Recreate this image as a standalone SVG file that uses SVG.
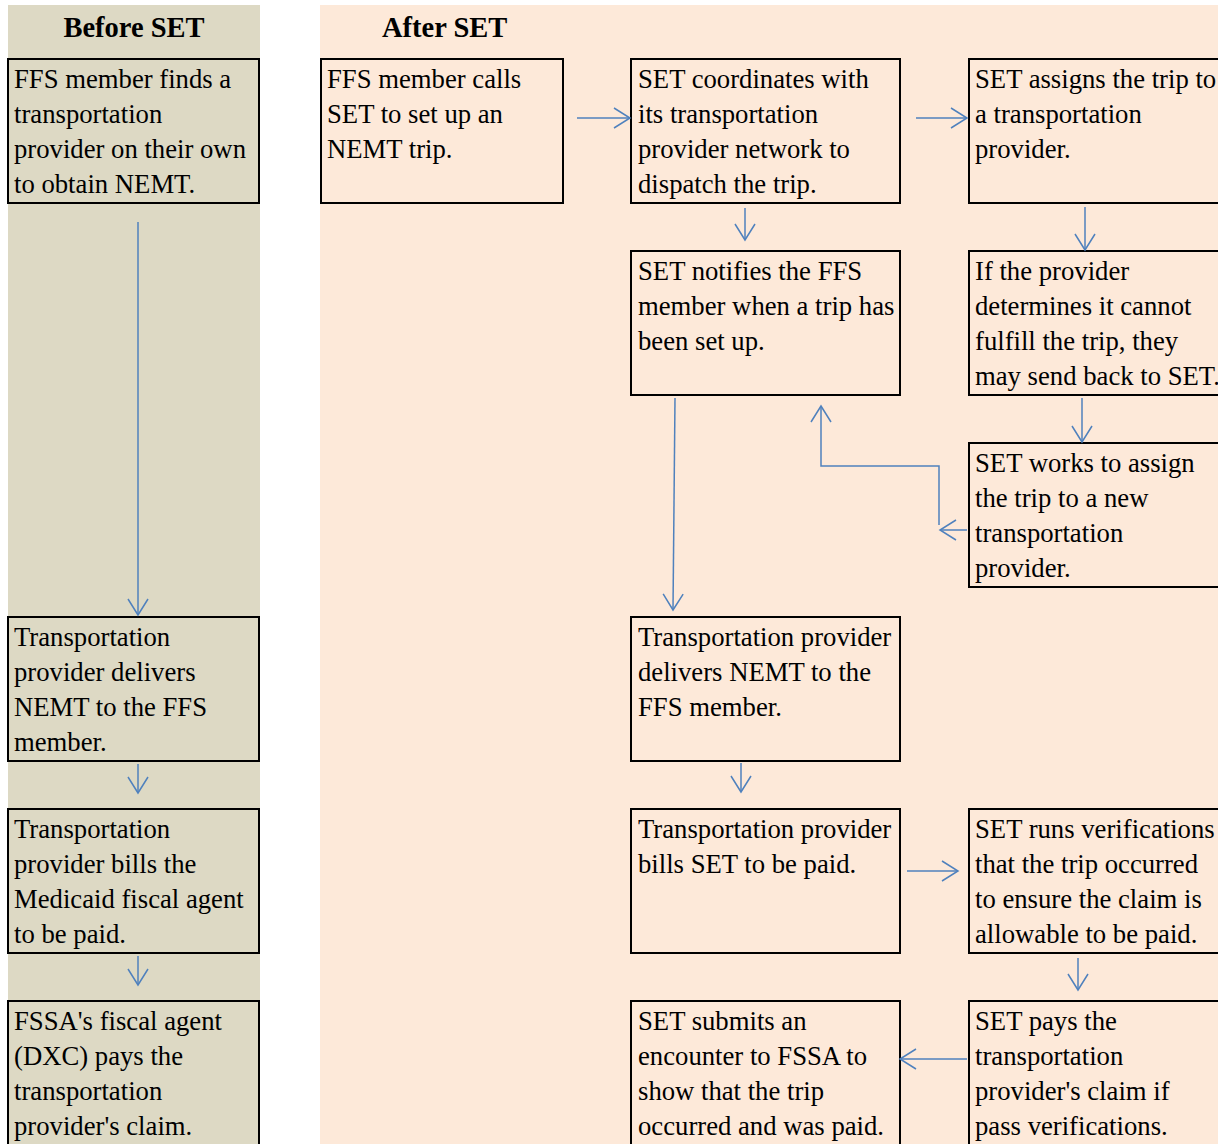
<svg xmlns="http://www.w3.org/2000/svg" width="1218" height="1144" viewBox="0 0 1218 1144">
<style>
.bg{stroke:none}
.box{stroke:#000;stroke-width:2}
.l{fill:#DDD9C4}
.r{fill:#FDE9D9}
text{font-family:"Liberation Serif","Times New Roman",serif;font-size:26.7px;fill:#000}
.h{font-weight:bold;font-size:28.5px}
.c{fill:none;stroke:#4F81BD;stroke-width:1.5}
</style>
<defs>
<marker id="a" markerUnits="userSpaceOnUse" markerWidth="24" markerHeight="24" viewBox="-18 -12 20 24" refX="0" refY="0" orient="auto">
<path d="M-16,-10 L0,0 L-16,10" fill="none" stroke="#4F81BD" stroke-width="1.5"/>
</marker>
</defs>
<rect class="bg" x="8" y="5" width="252" height="1139" fill="#DDD9C4"/>
<rect class="bg" x="320" y="5" width="898" height="1139" fill="#FDE9D9"/>
<text class="h" x="134" y="37" text-anchor="middle">Before SET</text>
<text class="h" x="382" y="37">After SET</text>

<g id="b1"><rect class="box l" x="8" y="59" width="251" height="144"/><text x="14" y="88">FFS member finds a</text><text x="14" y="123">transportation</text><text x="14" y="158">provider on their own</text><text x="14" y="193">to obtain NEMT.</text></g>
<g id="b2"><rect class="box l" x="8" y="617" width="251" height="144"/><text x="14" y="646">Transportation</text><text x="14" y="681">provider delivers</text><text x="14" y="716">NEMT to the FFS</text><text x="14" y="751">member.</text></g>
<g id="b3"><rect class="box l" x="8" y="809" width="251" height="144"/><text x="14" y="838">Transportation</text><text x="14" y="873">provider bills the</text><text x="14" y="908">Medicaid fiscal agent</text><text x="14" y="943">to be paid.</text></g>
<g id="b4"><rect class="box l" x="8" y="1001" width="251" height="150"/><text x="14" y="1030">FSSA's fiscal agent</text><text x="14" y="1065">(DXC) pays the</text><text x="14" y="1100">transportation</text><text x="14" y="1135">provider's claim.</text></g>

<g id="a1"><rect class="box r" x="321" y="59" width="242" height="144"/><text x="327" y="88">FFS member calls</text><text x="327" y="123">SET to set up an</text><text x="327" y="158">NEMT trip.</text></g>
<g id="a2"><rect class="box r" x="631" y="59" width="269" height="144"/><text x="638" y="88">SET coordinates with</text><text x="638" y="123">its transportation</text><text x="638" y="158">provider network to</text><text x="638" y="193">dispatch the trip.</text></g>
<g id="a3"><rect class="box r" x="969" y="59" width="260" height="144"/><text x="975" y="88">SET assigns the trip to</text><text x="975" y="123">a transportation</text><text x="975" y="158">provider.</text></g>
<g id="a4"><rect class="box r" x="631" y="251" width="269" height="144"/><text x="638" y="280">SET notifies the FFS</text><text x="638" y="315">member when a trip has</text><text x="638" y="350">been set up.</text></g>
<g id="a5"><rect class="box r" x="969" y="251" width="260" height="144"/><text x="975" y="280">If the provider</text><text x="975" y="315">determines it cannot</text><text x="975" y="350">fulfill the trip, they</text><text x="975" y="385">may send back to SET.</text></g>
<g id="a6"><rect class="box r" x="969" y="443" width="260" height="144"/><text x="975" y="472">SET works to assign</text><text x="975" y="507">the trip to a new</text><text x="975" y="542">transportation</text><text x="975" y="577">provider.</text></g>
<g id="a7"><rect class="box r" x="631" y="617" width="269" height="144"/><text x="638" y="646">Transportation provider</text><text x="638" y="681">delivers NEMT to the</text><text x="638" y="716">FFS member.</text></g>
<g id="a8"><rect class="box r" x="631" y="809" width="269" height="144"/><text x="638" y="838">Transportation provider</text><text x="638" y="873">bills SET to be paid.</text></g>
<g id="a9"><rect class="box r" x="969" y="809" width="260" height="144"/><text x="975" y="838">SET runs verifications</text><text x="975" y="873">that the trip occurred</text><text x="975" y="908">to ensure the claim is</text><text x="975" y="943">allowable to be paid.</text></g>
<g id="a10"><rect class="box r" x="631" y="1001" width="269" height="150"/><text x="638" y="1030">SET submits an</text><text x="638" y="1065">encounter to FSSA to</text><text x="638" y="1100">show that the trip</text><text x="638" y="1135">occurred and was paid.</text></g>
<g id="a11"><rect class="box r" x="969" y="1001" width="260" height="150"/><text x="975" y="1030">SET pays the</text><text x="975" y="1065">transportation</text><text x="975" y="1100">provider's claim if</text><text x="975" y="1135">pass verifications.</text></g>

<g id="connectors">
<line class="c" x1="138" y1="222" x2="138" y2="615" marker-end="url(#a)"/>
<line class="c" x1="138" y1="764" x2="138" y2="793" marker-end="url(#a)"/>
<line class="c" x1="138" y1="956" x2="138" y2="985" marker-end="url(#a)"/>
<line class="c" x1="577" y1="118" x2="630" y2="118" marker-end="url(#a)"/>
<line class="c" x1="916" y1="118" x2="967" y2="118" marker-end="url(#a)"/>
<line class="c" x1="745" y1="208" x2="745" y2="240" marker-end="url(#a)"/>
<line class="c" x1="1085" y1="207" x2="1085" y2="250" marker-end="url(#a)"/>
<line class="c" x1="1082" y1="398" x2="1082" y2="442" marker-end="url(#a)"/>
<line class="c" x1="967" y1="530" x2="940" y2="530" marker-end="url(#a)"/>
<polyline class="c" points="939,525 939,466 821,466 821,406" marker-end="url(#a)"/>
<line class="c" x1="675" y1="398" x2="673" y2="610" marker-end="url(#a)"/>
<line class="c" x1="741" y1="763" x2="741" y2="792" marker-end="url(#a)"/>
<line class="c" x1="907" y1="871" x2="958" y2="871" marker-end="url(#a)"/>
<line class="c" x1="1078" y1="958" x2="1078" y2="990" marker-end="url(#a)"/>
<line class="c" x1="967" y1="1059" x2="900" y2="1059" marker-end="url(#a)"/>
</g>
</svg>
